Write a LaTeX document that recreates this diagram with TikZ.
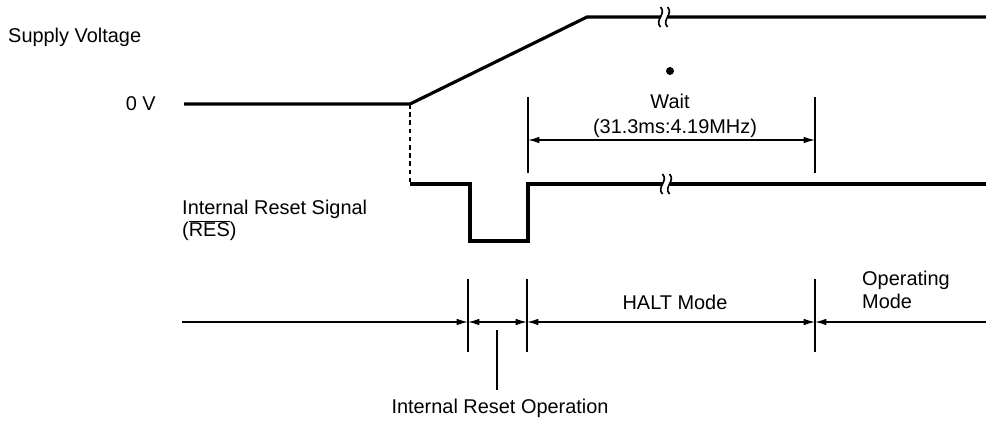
\documentclass[tikz,border=0pt]{standalone}
\usepackage{fontspec}
\setmainfont{Liberation Sans}
\usetikzlibrary{arrows.meta}

\begin{document}
\begin{tikzpicture}[
  x=0.03cm, y=-0.03cm,
  every node/.style={font=\fontsize{17}{19}\selectfont, inner sep=0pt},
  sig/.style={line width=2.7pt},
  tick/.style={line width=1.2pt},
  dim/.style={tick, {Latex[length=0.34cm, width=0.2cm]}-{Latex[length=0.34cm, width=0.2cm]}},
  brk/.pic={
    \fill[white] (-3.5,-7) rectangle (3.5,7);
    \draw[line width=1.4pt] (-3.5,-10) .. controls (3,-3) and (-10,3) .. (-3.5,10);
    \draw[line width=1.4pt] (3.5,-10) .. controls (10,-3) and (-3,3) .. (3.5,10);
  }
]
\useasboundingbox (0,0) rectangle (986,428);

% Versorgungsspannung
\coordinate (v0) at (184,104);
\coordinate (vr) at (410,104);
\coordinate (vt) at (587,17);
\coordinate (ve) at (986,17);
\draw[sig] (v0) -- (vr) -- (vt) -- (ve);
\pic at (664,17) {brk};

% internes Reset-Signal
\coordinate (r0) at (410,184);
\coordinate (r1) at (470,241);
\coordinate (r2) at (528,184);
\coordinate (re) at (986,184);
\draw[sig] (r0) -| (r1) -| (r2) -- (re);
\draw[tick, dash pattern=on 4pt off 3pt] (vr) -- (r0);
\pic at (666,184) {brk};

\node[anchor=west] (supply) at (8,37) {Supply Voltage};
\node[anchor=east] (zero) at (156,104) {0 V};
\node[anchor=north west, align=left] (ressig) at (182,200)
     {Internal Reset Signal\\(\(\overline{\mbox{RES}}\))};

% Wartezeit
\node[circle, fill, minimum size=0.24cm] (dot) at (670,71) {};
\node (wait) at (670,101) {Wait};
\node (waitval) at (675,128) {(31.3ms:4.19MHz)};
\draw[tick] (528,97) -- (528,173);
\draw[tick] (815,97) -- (815,173);
\coordinate (w1) at (528,140);
\coordinate (w2) at (815,140);
\draw[dim] (w1) -- (w2);

% Betriebsarten
\coordinate (t0) at (182,322);
\coordinate (t1) at (468,322);
\coordinate (t2) at (527,322);
\coordinate (t3) at (815,322);
\coordinate (t4) at (986,322);
\draw[tick, -{Latex[length=0.34cm, width=0.2cm]}] (t0) -- (t1);
\draw[dim] (t1) -- (t2);
\draw[dim] (t2) -- (t3);
\draw[tick, {Latex[length=0.34cm, width=0.2cm]}-] (t3) -- (t4);
\foreach \x in {468,527,815}
  \draw[tick] (\x,279) -- (\x,352);
\coordinate (op) at (497,330);
\coordinate (opb) at (497,390);
\draw[tick] (op) -- (opb);

\node (halt) at (675,302) {HALT Mode};
\node[anchor=west, align=left] (oper) at (862,290) {Operating\\Mode};
\node (resop) at (500,408) {Internal Reset Operation};
\end{tikzpicture}
\end{document}
